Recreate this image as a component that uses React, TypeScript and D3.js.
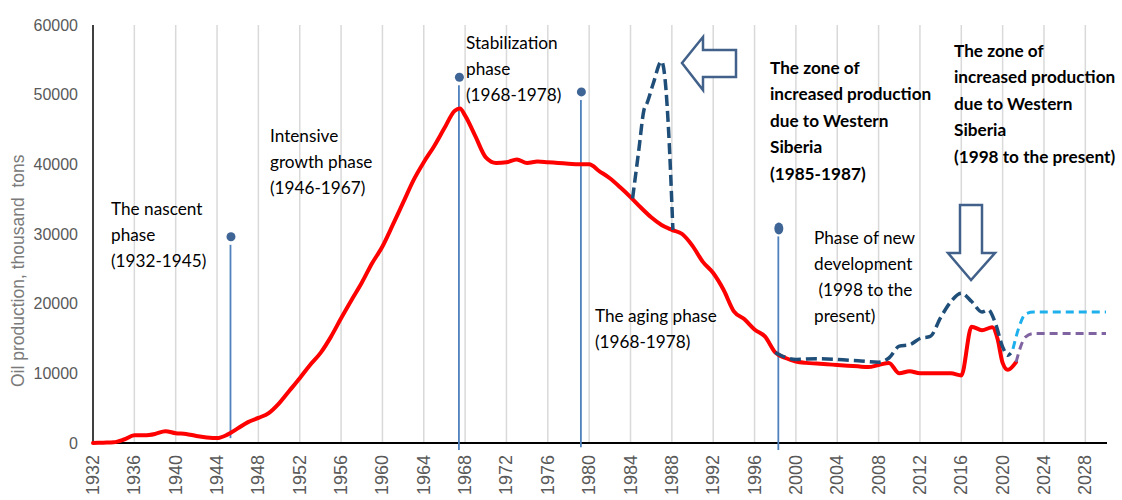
import * as d3 from "d3";
import { useEffect, useRef } from "react";

// red: actual production
const redYears = [
  1932, 1933, 1934, 1935, 1936, 1937, 1938, 1939, 1940, 1941, 1942, 1943, 1944, 1945,
  1946, 1947, 1948, 1949, 1950, 1951, 1952, 1953, 1954, 1955, 1956, 1957, 1958, 1959,
  1960, 1961, 1962, 1963, 1964, 1965, 1966, 1967, 1967.5, 1968, 1969, 1970, 1971, 1972,
  1973, 1974, 1975, 1976, 1977, 1978, 1979, 1980, 1981, 1982, 1983, 1984, 1985, 1986,
  1987, 1988, 1989, 1990, 1991, 1992, 1993, 1994, 1995, 1996, 1997, 1998, 1999, 2000,
  2001, 2002, 2003, 2004, 2005, 2006, 2007, 2008, 2009, 2010, 2011, 2012, 2013, 2014,
  2015, 2016, 2017, 2018, 2019, 2019.5, 2020, 2020.5, 2021.3,
];
const redValues = [
  0, 50, 100, 500, 1100, 1100, 1300, 1700, 1400, 1300, 1000, 800, 700, 1200,
  2100, 3000, 3600, 4300, 5700, 7500, 9300, 11200, 12900, 15200, 17900, 20500, 23000, 25800,
  28200, 31300, 34500, 37700, 40300, 42600, 45200, 47700, 48000, 47000, 44000, 41000, 40200, 40300,
  40700, 40200, 40400, 40300, 40200, 40100, 40000, 40000, 39000, 38000, 36700, 35300, 33800, 32400,
  31300, 30600, 30000, 28300, 26000, 24400, 22000, 18900, 17800, 16300, 15300, 13000, 12200, 11700,
  11500, 11400, 11300, 11200, 11100, 11000, 10900, 11200, 11500, 10000, 10300, 10000, 10000, 10000,
  10000, 9700, 16700, 16200, 16600, 15000, 11500, 10500, 11600,
];

// navy dashed: zone of increased production 1985-1987
const spikeYears = [1984.2, 1984.8, 1985.3, 1985.6, 1986.2, 1987.0, 1987.35, 1987.7, 1988.1];
const spikeValues = [35100, 42000, 47800, 48800, 51600, 54800, 52100, 44400, 30600];

// navy dashed: 1998 to present
const navyYears = [
  1998, 1999, 2000, 2002, 2004, 2006, 2008, 2009, 2010, 2011, 2012, 2013, 2014, 2015,
  2016, 2017, 2018, 2018.6, 2019.3, 2020, 2020.5, 2020.8,
];
const navyValues = [
  13000, 12300, 12000, 12100, 12000, 11800, 11600, 12200, 13900, 14100, 15000, 15300, 18000, 20300,
  21500, 20300, 18800, 19100, 17200, 13800, 12600, 12900,
];

// forecasts
const cyanYears = [2021, 2021.6, 2022.2, 2023, 2030];
const cyanValues = [13500, 16700, 18500, 18800, 18800];
const purpleYears = [2021.3, 2022.2, 2023, 2030];
const purpleValues = [11600, 15200, 15700, 15700];

// phase markers
const markerYears = [1945.3, 1967.4, 1979.2, 1998.3];
const markerTops = [29600, 52500, 50400, 30800];
const markerBottoms = [700, -1000, -600, -1000];

const yTicks = [0, 10000, 20000, 30000, 40000, 50000, 60000];
const xTicks = d3.range(1932, 2029, 4);

const annotations = [
  { lines: ["The nascent", "phase", "(1932-1945)"], x: 111, y: 208, bold: false },
  { lines: ["Intensive", "growth phase", "(1946-1967)"], x: 270, y: 135, bold: false },
  { lines: ["Stabilization", "phase", "(1968-1978)"], x: 466, y: 42, bold: false },
  { lines: ["The aging phase", "(1968-1978)"], x: 595, y: 315, bold: false },
  { lines: ["Phase of new", "development", "\u00a0(1998 to the", "present)"], x: 814, y: 237, bold: false },
  {
    lines: ["The zone of", "increased production", "due to Western", "Siberia", "(1985-1987)"],
    x: 770, y: 67, bold: true,
  },
  {
    lines: ["The zone of", "increased production", "due to Western", "Siberia", "(1998 to the present)"],
    x: 954, y: 50, bold: true,
  },
];

const W = 1122;
const H = 500;

export default function App() {
  const ref = useRef<SVGSVGElement | null>(null);

  useEffect(() => {
    document.body.style.margin = "0";
    const svg = d3.select(ref.current);
    svg.selectAll("*").remove();

    const x = d3.scaleLinear().domain([1932, 2030]).range([93, 1106]);
    const y = d3.scaleLinear().domain([0, 60000]).range([443, 25]);

    // grid
    svg
      .append("g")
      .selectAll("line")
      .data(xTicks.slice(1))
      .join("line")
      .attr("x1", (d) => x(d))
      .attr("x2", (d) => x(d))
      .attr("y1", y(60000))
      .attr("y2", y(0))
      .attr("stroke", "#d9d9d9")
      .attr("stroke-width", 1.5);

    // axes
    svg
      .append("line")
      .attr("x1", x(1932))
      .attr("x2", x(1932))
      .attr("y1", y(60000))
      .attr("y2", y(0))
      .attr("stroke", "#000")
      .attr("stroke-width", 1.5);
    svg
      .append("line")
      .attr("x1", x(1932))
      .attr("x2", x(2030) + 1)
      .attr("y1", y(0))
      .attr("y2", y(0))
      .attr("stroke", "#000")
      .attr("stroke-width", 2);

    svg
      .append("g")
      .selectAll("text")
      .data(yTicks)
      .join("text")
      .attr("x", 78)
      .attr("y", (d) => y(d))
      .attr("text-anchor", "end")
      .attr("dominant-baseline", "central")
      .attr("font-family", "Liberation Sans, Arial, sans-serif")
      .attr("font-size", 16)
      .attr("fill", "#595959")
      .text((d) => d);

    svg
      .append("g")
      .selectAll("text")
      .data(xTicks)
      .join("text")
      .attr("transform", (d) => `translate(${x(d)},455) rotate(-90)`)
      .attr("text-anchor", "end")
      .attr("dominant-baseline", "central")
      .attr("font-family", "Liberation Sans, Arial, sans-serif")
      .attr("font-size", 18)
      .attr("fill", "#595959")
      .text((d) => d);

    // y axis title, drawn from its bottom end upwards
    svg
      .append("text")
      .attr("transform", `translate(18,387) rotate(-90)`)
      .attr("text-anchor", "start")
      .attr("dominant-baseline", "central")
      .attr("font-family", "Liberation Sans, Arial, sans-serif")
      .attr("font-size", 17.5)
      .attr("fill", "#7a7a7a")
      .text("Oil production, thousand\u00a0 tons");

    // phase markers
    const markers = svg.append("g");
    markerYears.forEach((yr, i) => {
      markers
        .append("line")
        .attr("x1", x(yr))
        .attr("x2", x(yr))
        .attr("y1", y(markerTops[i]) + 8)
        .attr("y2", y(markerBottoms[i]))
        .attr("stroke", "#4f81bd")
        .attr("stroke-width", 1.8);
      markers
        .append("ellipse")
        .attr("cx", x(yr) + 0.5)
        .attr("cy", y(markerTops[i]))
        .attr("rx", 4.5)
        .attr("ry", i === 3 ? 6 : 4.5)
        .attr("fill", "#3e6596");
    });

    const line = (xs: number[], vs: number[]) =>
      d3
        .line<number>()
        .x((d) => x(xs[d]))
        .y((d) => y(vs[d]))
        .curve(d3.curveMonotoneX)(d3.range(xs.length));

    const lines = svg.append("g").attr("fill", "none").attr("stroke-linejoin", "round");

    lines
      .append("path")
      .attr("d", line(redYears, redValues))
      .attr("stroke", "#ff0000")
      .attr("stroke-width", 4)
      .attr("stroke-linecap", "round");

    lines
      .append("path")
      .attr("d", line(spikeYears, spikeValues))
      .attr("stroke", "#1f4e79")
      .attr("stroke-width", 3.5)
      .attr("stroke-dasharray", "11,5");

    lines
      .append("path")
      .attr("d", line(navyYears, navyValues))
      .attr("stroke", "#1f4e79")
      .attr("stroke-width", 3.5)
      .attr("stroke-dasharray", "11,5");

    lines
      .append("path")
      .attr("d", line(cyanYears, cyanValues))
      .attr("stroke", "#1db0ec")
      .attr("stroke-width", 3)
      .attr("stroke-dasharray", "8,5");

    lines
      .append("path")
      .attr("d", line(purpleYears, purpleValues))
      .attr("stroke", "#8064a2")
      .attr("stroke-width", 3)
      .attr("stroke-dasharray", "8,5");

    // arrows
    const arrowStyle = (p: d3.Selection<SVGPathElement, unknown, null, undefined>) =>
      p.attr("fill", "#fff").attr("stroke", "#41618a").attr("stroke-width", 2.5).attr("stroke-linejoin", "miter");
    const lx = 682, ly = 63;
    svg
      .append("path")
      .attr(
        "d",
        `M${lx},${ly} L${lx + 21},${ly - 26} L${lx + 21},${ly - 13} L${lx + 54},${ly - 13} L${lx + 54},${ly + 14} L${lx + 21},${ly + 14} L${lx + 21},${ly + 27} Z`
      )
      .call(arrowStyle);
    const dx = 971, dy = 280;
    svg
      .append("path")
      .attr(
        "d",
        `M${dx},${dy} L${dx - 23},${dy - 27} L${dx - 11},${dy - 27} L${dx - 11},${dy - 75} L${dx + 11},${dy - 75} L${dx + 11},${dy - 27} L${dx + 24},${dy - 27} Z`
      )
      .call(arrowStyle);

    // annotations
    const notes = svg.append("g").attr("font-family", "Lato, 'Open Sans', sans-serif");
    annotations.forEach((a) => {
      const t = notes
        .append("text")
        .attr("font-size", 17.2)
        .attr("font-weight", a.bold ? 700 : 400)
        .attr("fill", "#000");
      a.lines.forEach((ln, i) => {
        t.append("tspan")
          .attr("x", a.x)
          .attr("y", a.y + i * (a.bold ? 26.5 : 26.3))
          .attr("dominant-baseline", "central")
          .text(ln);
      });
    });
  }, []);

  return (
    <svg
      ref={ref}
      width={W}
      height={H}
      style={{ display: "block", background: "#fff" }}
    />
  );
}
